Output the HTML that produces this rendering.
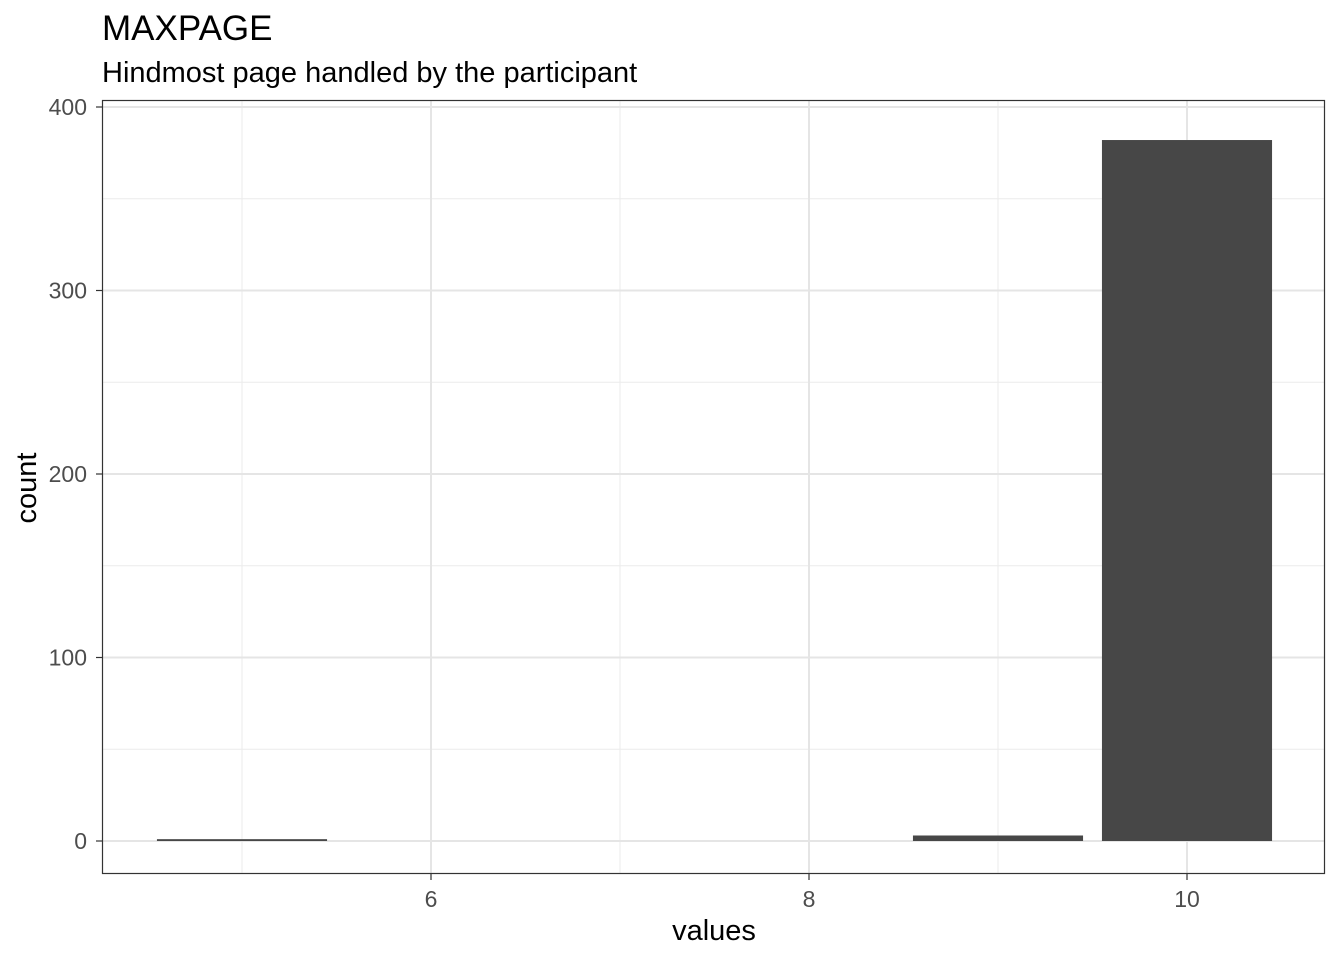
<!DOCTYPE html>
<html><head><meta charset="utf-8"><style>
body{margin:0;background:#fff;}
svg text{font-family:"Liberation Sans",Arial,sans-serif;}
</style></head><body>
<svg id="chart" width="1344" height="960" xmlns="http://www.w3.org/2000/svg">
<text x="102" y="40" font-size="35" fill="#000">MAXPAGE</text>
<text x="102" y="82" font-size="29" fill="#000">Hindmost page handled by the participant</text>
<g id="grid"></g>
<g id="bars"></g>
<rect x="102.5" y="100.5" width="1222" height="773" fill="none" stroke="#333" stroke-width="1.2"/>
<g id="axes"></g>
<text x="714" y="940" font-size="29" text-anchor="middle" fill="#000">values</text>
<text transform="translate(36,488) rotate(-90)" font-size="29" text-anchor="middle" fill="#000">count</text>
</svg>
<script>
const categories=[5,9,10];
const counts=[1,3,382];
const xTicks=[6,8,10];
const yTicks=[0,100,200,300,400];
const xMinor=[5,7,9];
const yMinor=[50,150,250,350];
const NS="http://www.w3.org/2000/svg";
function x(v){return 431+(v-6)*189;}
function y(v){return 841-v*1.835;}
function mk(tag,attrs,parent){const e=document.createElementNS(NS,tag);for(const k in attrs)e.setAttribute(k,attrs[k]);document.getElementById(parent).appendChild(e);return e;}
xMinor.forEach(v=>{const e=mk('line',{x1:x(v),x2:x(v),y1:101,y2:873,stroke:'#ebebeb','stroke-width':1},'grid');

});
yMinor.forEach(v=>{const e=mk('line',{x1:103,x2:1324,y1:y(v),y2:y(v),stroke:'#ebebeb','stroke-width':1},'grid');

});
xTicks.forEach(v=>{const e=mk('line',{x1:x(v),x2:x(v),y1:101,y2:873,stroke:'#e5e5e5','stroke-width':2},'grid');


const t=mk('line',{x1:x(v),x2:x(v),y1:874,y2:880,stroke:'#333','stroke-width':1.2},'axes');


const l=mk('text',{x:x(v),y:907,'font-size':23,'text-anchor':'middle',fill:'#4d4d4d'},'axes');l.textContent=v;

});
yTicks.forEach(v=>{const e=mk('line',{x1:103,x2:1324,y1:y(v),y2:y(v),stroke:'#e5e5e5','stroke-width':2},'grid');


const t=mk('line',{x1:96,x2:102,y1:y(v),y2:y(v),stroke:'#333','stroke-width':1.2},'axes');


const l=mk('text',{x:87,y:y(v)+8,'font-size':23,'text-anchor':'end',fill:'#4d4d4d'},'axes');l.textContent=v;

});
categories.forEach((c,i)=>{const w=0.9*189;const b=mk('rect',{x:x(c)-w/2,y:y(counts[i]),width:w,height:y(0)-y(counts[i]),fill:'#474747'},'bars');

});
</script>
</body></html>
